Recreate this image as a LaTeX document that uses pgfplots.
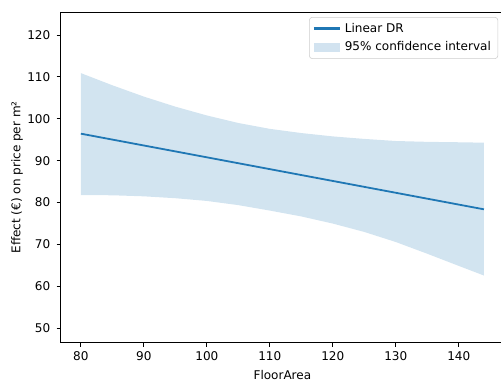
\documentclass[border=0pt]{standalone}
\usepackage{fontspec}
\setmainfont{DejaVu Sans}
\usepackage{pgfplots}
\pgfplotsset{compat=1.18}
\definecolor{mplblue}{HTML}{1F77B4}
\begin{document}
\begin{tikzpicture}[font=\fontsize{8.65pt}{10.4pt}\selectfont]
\begin{axis}[
  scale only axis, width=319pt, height=237.6pt,
  xmin=76.8, xmax=147.2, ymin=46.6, ymax=125.4,
  xtick={80,90,...,140}, ytick={50,60,...,120},
  tick align=outside, tick pos=left,
  major tick length=3pt,
  every tick/.style={black, line width=0.7pt},
  axis line style={line width=0.7pt},
  /pgf/number format/assume math mode=true,
  yticklabel style={xshift=-1pt},
  xlabel={FloorArea}, ylabel={Effect (€) on price per m²},
  xlabel style={at={(axis description cs:0.5,0)}, anchor=base, yshift=-26.4pt},
  ylabel style={at={([xshift=-31.5pt]axis description cs:0,0.5)}, anchor=center},
  legend style={at={(0.9865,0.9857)}, anchor=north east, draw=black!20, rounded corners=2pt,
    fill=white, fill opacity=0.8, text opacity=1, inner xsep=2.5pt, inner ysep=2pt, row sep=1.5pt,
    font=\fontsize{8.65pt}{10.4pt}\selectfont, nodes={inner xsep=2.5pt}},
  legend cell align=left,
]
\addplot[fill=mplblue, fill opacity=0.2, draw=none, forget plot] coordinates {
(80,110.9) (85,108.0) (90,105.3) (95,102.9) (100,100.8) (105,99.0) (110,97.6) (115,96.6)
(120,95.8) (125,95.2) (130,94.7) (135,94.5) (140,94.4) (144,94.3)
(144,62.6) (140,64.9) (135,67.8) (130,70.6) (125,73.0) (120,75.0) (115,76.7) (110,78.1)
(105,79.4) (100,80.4) (95,81.05) (90,81.5) (85,81.75) (80,81.8)} -- cycle;
\addplot[mplblue, line width=1.3pt, legend image code/.code={\draw[mplblue, line width=1.5pt, sharp corners] (0pt,0pt) -- (19pt,0pt);}] coordinates {(80,96.45) (144,78.4)};
\addlegendentry{Linear DR}
\addlegendimage{legend image code/.code={\fill[mplblue, fill opacity=0.2, draw=none, sharp corners] (0pt,-3pt) rectangle (19pt,3pt);}}
\addlegendentry{95\% confidence interval}
\coordinate (SW) at (rel axis cs:0,0);
\coordinate (NE) at (rel axis cs:1,1);
\end{axis}
\pgfresetboundingbox
\useasboundingbox ([shift={(-43.7pt,-29.3pt)}]SW) rectangle ([shift={(-2.2pt,8.9pt)}]NE);
\end{tikzpicture}
\end{document}
